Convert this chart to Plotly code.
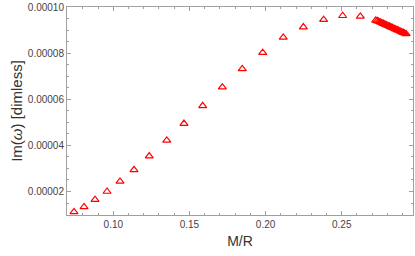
import plotly.graph_objects as go

mr = [0.0742, 0.0808, 0.0880, 0.0959, 0.1044, 0.1136, 0.1236, 0.1351, 0.1464,
      0.1587, 0.1716, 0.1847, 0.1981, 0.2116, 0.2248, 0.2381, 0.2506, 0.2622,
      0.2723, 0.2733, 0.2743, 0.2753, 0.2763, 0.2773, 0.2783, 0.2793, 0.2803,
      0.2813, 0.2823, 0.2833, 0.2843, 0.2853, 0.2863, 0.2873, 0.2883, 0.2893,
      0.2903, 0.2913, 0.2923]
im_w = [0.00001114, 0.0000133, 0.00001645, 0.0000200, 0.0000244, 0.0000294,
        0.0000354, 0.0000422, 0.0000495, 0.0000572, 0.0000653, 0.0000732,
        0.0000803, 0.0000869, 0.0000914, 0.0000946, 0.0000963, 0.0000960,
        0.0000943, 0.0000941, 0.0000938, 0.0000935, 0.0000932, 0.0000929,
        0.0000926, 0.0000923, 0.0000920, 0.0000917, 0.0000914, 0.0000911,
        0.0000908, 0.0000905, 0.0000902, 0.0000899, 0.0000896, 0.0000893,
        0.0000890, 0.0000887, 0.0000884]

fig = go.Figure()
fig.add_trace(go.Scatter(
    x=mr, y=im_w, mode="markers",
    marker=dict(symbol="triangle-up-open", size=7, color="#ff0000",
                line=dict(width=1.2, color="#ff0000")),
    showlegend=False, cliponaxis=False,
))

font_family = "Liberation Sans, Arial, sans-serif"
axis_common = dict(
    showline=True, linecolor="#a0a0a0", linewidth=1, mirror="allticks",
    ticks="inside", ticklen=4, tickcolor="#a0a0a0", tickwidth=1,
    showgrid=False, zeroline=False, automargin=False,
    tickfont=dict(family=font_family, size=10, color="#444444"),
)

fig.update_xaxes(
    range=[0.0696, 0.2968], dtick=0.05, tick0=0.0, tickformat=".2f",
    minor=dict(dtick=0.01, ticks="inside", ticklen=2, tickcolor="#a0a0a0"),
    title=dict(text="M/R", font=dict(family=font_family, size=14, color="#333333"), standoff=7),
    **axis_common,
)
fig.update_yaxes(
    range=[0.0000098, 0.0001001], dtick=0.00002, tick0=0.0, tickformat=".5f",
    minor=dict(dtick=0.000005, ticks="inside", ticklen=2, tickcolor="#a0a0a0"),
    title=dict(text="Im(<i>ω</i>) [dimless]", font=dict(family=font_family, size=15, color="#333333"), standoff=1),
    **axis_common,
)

fig.update_layout(
    width=415, height=256,
    margin=dict(l=67, r=2, t=7, b=41),
    plot_bgcolor="white", paper_bgcolor="white",
)

fig.write_html("out.html", config={"displayModeBar": False},
               post_script="document.body.style.margin='0';")
